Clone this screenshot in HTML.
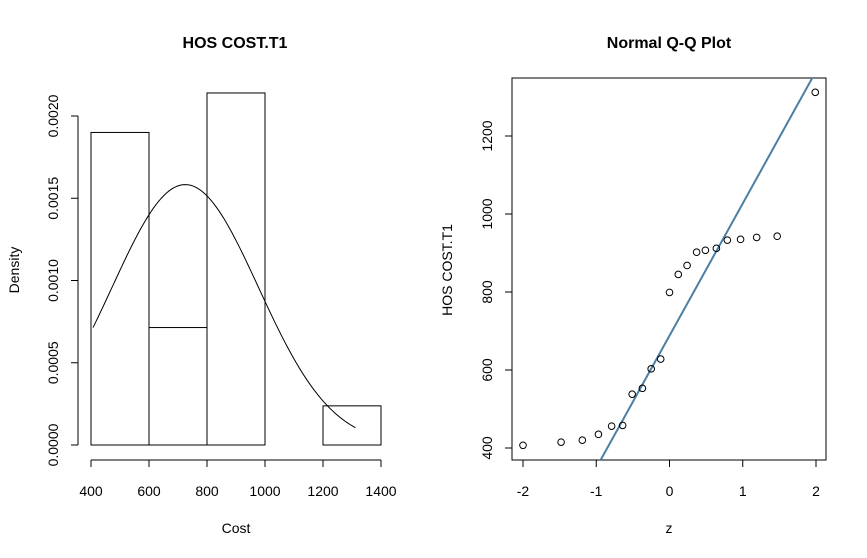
<!DOCTYPE html>
<html><head><meta charset="utf-8"><style>
html,body{margin:0;padding:0;background:#fff;overflow:hidden;width:867px;height:558px}
svg{display:block;font-family:"Liberation Sans",sans-serif}
</style></head><body>
<svg id="c" width="867" height="558">
<text x="235" y="48" font-size="16" font-weight="bold" text-anchor="middle">HOS COST.T1</text>
<text x="669" y="48" font-size="16" font-weight="bold" text-anchor="middle">Normal Q-Q Plot</text>
<text x="236" y="533" font-size="14" text-anchor="middle">Cost</text>
<text transform="translate(19,270) rotate(-90)" font-size="14" text-anchor="middle">Density</text>
<text x="669" y="533" font-size="14" text-anchor="middle">z</text>
<text transform="translate(452,270) rotate(-90)" font-size="14" text-anchor="middle">HOS COST.T1</text>
<rect x="512" y="78" width="314" height="382" fill="none" stroke="#000"/>
<g id="g"></g>
</svg>
<script>
// Histogram data
const binEdges=[400,600,800,1000,1200,1400];
const binDensity=[0.0019,0.000714,0.00214,0,0.000238];
const histXTicks=[400,600,800,1000,1200,1400];
const histYTicks=[0,0.0005,0.001,0.0015,0.002];
const histYLabels=["0.0000","0.0005","0.0010","0.0015","0.0020"];
const normMean=[725];
const normSd=[252];
const normRange=[407,1312];
// QQ data
const qqZ=[-2.0,-1.48,-1.19,-0.97,-0.79,-0.64,-0.51,-0.37,-0.25,-0.12,0.0,0.12,0.24,0.37,0.49,0.64,0.79,0.97,1.19,1.47,1.99];
const qqValues=[407,415,420,435,456,458,538,553,603,628,799,845,868,902,907,912,933,935,940,943,1312];
const qqLineCoef=[688,339];
const qqXTicks=[-2,-1,0,1,2];
const qqYTicks=[400,600,800,1000,1200];

const NS="http://www.w3.org/2000/svg";
const g=document.getElementById('g');
function mk(t,a,txt){const e=document.createElementNS(NS,t);for(const k in a)e.setAttribute(k,a[k]);if(txt!==undefined)e.textContent=txt;g.appendChild(e);return e;}
const hx=v=>91+(v-400)*0.29;
const hy=v=>445-v*164500;
const qx=z=>523+(z+2)*73.25;
const qy=v=>448-(v-400)*0.39;

for(let i=0;i<binDensity.length;i++){
 const x0=hx(binEdges[i]),x1=hx(binEdges[i+1]),y=hy(binDensity[i]);
 const r=mk('rect',{x:x0,y:Math.min(y,445),width:x1-x0,height:Math.abs(445-y),fill:'none',stroke:'#000'});
 
 
}
let d='';
for(let i=0;i<=100;i++){const v=normRange[0]+(normRange[1]-normRange[0])*i/100;
 const den=Math.exp(-0.5*((v-normMean[0])/normSd[0])**2)/(normSd[0]*Math.sqrt(2*Math.PI));
 d+=(i?'L':'M')+hx(v).toFixed(2)+','+hy(den).toFixed(2);}
const nc=mk('path',{d:d,fill:'none',stroke:'#000'});


let ax=mk('line',{x1:hx(400),x2:hx(1400),y1:460,y2:460,stroke:'#000'});


histXTicks.forEach(v=>{mk('line',{x1:hx(v),x2:hx(v),y1:460,y2:467,stroke:'#000'});
 const t=mk('text',{x:hx(v),y:496,'font-size':14,'text-anchor':'middle'},String(v));
 
 });
ax=mk('line',{x1:78,x2:78,y1:hy(0),y2:hy(0.002),stroke:'#000'});


histYTicks.forEach((v,i)=>{mk('line',{x1:71,x2:78,y1:hy(v),y2:hy(v),stroke:'#000'});
 const t=mk('text',{transform:`translate(58,${hy(v)}) rotate(-90)`,'font-size':14,'text-anchor':'middle'},histYLabels[i]);
 
 });
qqXTicks.forEach(v=>{mk('line',{x1:qx(v),x2:qx(v),y1:460,y2:467,stroke:'#000'});
 const t=mk('text',{x:qx(v),y:496,'font-size':14,'text-anchor':'middle'},String(v));
 
 });
qqYTicks.forEach(v=>{mk('line',{x1:505,x2:512,y1:qy(v),y2:qy(v),stroke:'#000'});
 const t=mk('text',{transform:`translate(492,${qy(v)}) rotate(-90)`,'font-size':14,'text-anchor':'middle'},String(v));
 
 });
const cp=mk('clipPath',{id:'qqclip'});
const cr=document.createElementNS(NS,'rect');cr.setAttribute('x',512);cr.setAttribute('y',78);cr.setAttribute('width',314);cr.setAttribute('height',382);cp.appendChild(cr);
const ql=mk('line',{x1:qx(-3),y1:qy(qqLineCoef[0]-3*qqLineCoef[1]),x2:qx(3),y2:qy(qqLineCoef[0]+3*qqLineCoef[1]),stroke:'#4a7fa3','stroke-width':2,'clip-path':'url(#qqclip)'});


qqZ.forEach((z,i)=>{const c=mk('circle',{cx:qx(z),cy:qy(qqValues[i]),r:3.3,fill:'none',stroke:'#000'});
 
 });
</script>
</body></html>
